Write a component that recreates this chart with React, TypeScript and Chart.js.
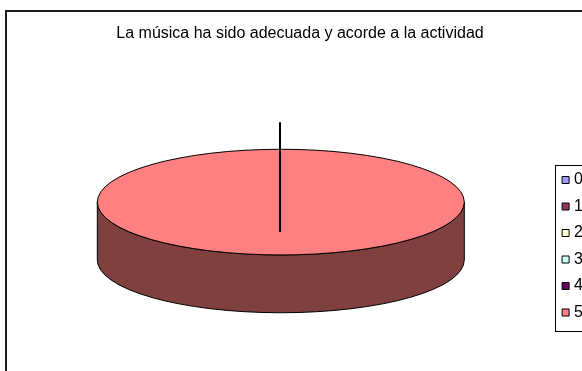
import React, { useEffect, useRef } from 'react';
import { Chart, registerables } from 'chart.js';

Chart.register(...registerables);

const TITLE = 'La música ha sido adecuada y acorde a la actividad';
const CATEGORIES = ['0', '1', '2', '3', '4', '5'];
const VALUES = [0, 0, 0, 0, 0, 100];
const COLORS = ['#9999FF', '#993366', '#FFFFCC', '#CCFFFF', '#660066', '#FF8080'];

const FONT = '"Liberation Sans", Arial, sans-serif';
const TILT = 0.288; // vertical squash of the pie top
const DEPTH = 0.315; // pie thickness relative to radius

function shade(hex: string, f: number): string {
  const n = parseInt(hex.slice(1), 16);
  const r = Math.round(((n >> 16) & 255) * f);
  const g = Math.round(((n >> 8) & 255) * f);
  const b = Math.round((n & 255) * f);
  return `rgb(${r},${g},${b})`;
}

const pie3d = {
  id: 'pie3d',
  beforeDatasetsDraw(chart: any) {
    const ctx: CanvasRenderingContext2D = chart.ctx;
    const meta = chart.getDatasetMeta(0);
    const ds = chart.data.datasets[0];
    const arcs = meta.data;
    if (!arcs.length) return false;
    const R = arcs[0].outerRadius;
    const cx = arcs[0].x;
    const ry = R * TILT;
    const depth = R * DEPTH;
    const cy = arcs[0].y - depth / 2;
    ctx.save();
    ctx.lineWidth = 1;
    ctx.strokeStyle = '#000';
    ctx.lineJoin = 'round';
    // side walls (front half)
    arcs.forEach((arc: any, i: number) => {
      const s = arc.startAngle;
      const e = arc.endAngle;
      if (e - s <= 1e-9) return;
      for (let k = -1; k <= 1; k++) {
        const lo = Math.max(s, 2 * k * Math.PI);
        const hi = Math.min(e, 2 * k * Math.PI + Math.PI);
        if (hi - lo <= 1e-9) continue;
        ctx.beginPath();
        ctx.ellipse(cx, cy, R, ry, 0, lo, hi, false);
        ctx.lineTo(cx + R * Math.cos(hi), cy + depth + ry * Math.sin(hi));
        ctx.ellipse(cx, cy + depth, R, ry, 0, hi, lo, true);
        ctx.closePath();
        ctx.fillStyle = shade(ds.backgroundColor[i], 0.5);
        ctx.fill();
        ctx.stroke();
      }
    });
    // top faces
    arcs.forEach((arc: any, i: number) => {
      const s = arc.startAngle;
      const e = arc.endAngle;
      if (e - s <= 1e-9) return;
      ctx.beginPath();
      const full = e - s >= 2 * Math.PI - 1e-6;
      if (full) {
        ctx.ellipse(cx, cy, R, ry, 0, 0, 2 * Math.PI);
      } else {
        ctx.moveTo(cx, cy);
        ctx.ellipse(cx, cy, R, ry, 0, s, e, false);
        ctx.closePath();
      }
      ctx.fillStyle = ds.backgroundColor[i];
      ctx.fill();
      ctx.stroke();
    });
    // leader line
    ctx.beginPath();
    ctx.lineWidth = 2;
    ctx.strokeStyle = '#000';
    ctx.moveTo(Math.round(cx) - 1, cy + 30);
    ctx.lineTo(Math.round(cx) - 1, cy - ry - 27);
    ctx.stroke();
    ctx.restore();
    return false;
  },
};

const legendFrame = {
  id: 'legendFrame',
  afterDraw(chart: any) {
    const lg = chart.legend;
    if (!lg || !lg.legendHitBoxes || !lg.legendHitBoxes.length) return;
    const hb = lg.legendHitBoxes;
    const first = hb[0];
    const last = hb[hb.length - 1];
    const ctx: CanvasRenderingContext2D = chart.ctx;
    const x = Math.round(lg.left) + 0.5;
    const top = Math.round(first.top + first.height / 2 - 15) + 0.5;
    const bottom = Math.round(last.top + last.height / 2 + 18) + 0.5;
    ctx.save();
    ctx.strokeStyle = '#000';
    ctx.lineWidth = 1;
    ctx.strokeRect(x, top, chart.width + 20 - x, bottom - top);
    ctx.restore();
  },
};

export default function App() {
  const ref = useRef<HTMLCanvasElement>(null);
  useEffect(() => {
    Chart.defaults.font.family = FONT;
    const chart = new Chart(ref.current as HTMLCanvasElement, {
      type: 'pie',
      data: {
        labels: CATEGORIES,
        datasets: [
          {
            data: VALUES,
            backgroundColor: COLORS,
            borderColor: '#000',
            borderWidth: 1,
          },
        ],
      },
      options: {
        responsive: false,
        animation: false,
        devicePixelRatio: 1,
        events: [],
        layout: { padding: 0 },
        plugins: {
          title: {
            display: true,
            text: TITLE,
            color: '#000',
            font: { family: FONT, size: 16, weight: 'normal', lineHeight: 1.2 },
            padding: { top: 12.4, bottom: 3.4 },
          },
          legend: {
            position: 'right',
            align: 'start',
            title: {
              display: true,
              text: ' ',
              font: { size: 10, lineHeight: 1.2 },
              padding: 68.75,
            },
            labels: {
              usePointStyle: true,
              pointStyle: 'rect',
              boxWidth: 1,
              boxHeight: 7,
              padding: 10.5,
              color: '#000',
              font: { family: FONT, size: 16 },
            },
          },
          tooltip: { enabled: false },
        },
      } as any,
      plugins: [pie3d, legendFrame],
    });
    return () => chart.destroy();
  }, []);
  return (
    <div
      style={{
        position: 'fixed',
        left: 0,
        top: 0,
        width: 582,
        height: 371,
        overflow: 'hidden',
        background: '#fff',
      }}
    >
      <div
        style={{
          position: 'absolute',
          left: 5,
          top: 10,
          width: 640,
          height: 440,
          border: '2px solid #1c1c1c',
          background: '#fff',
        }}
      >
        <canvas ref={ref} width={586} height={403} style={{ display: 'block', width: 586, height: 403 }} />
      </div>
    </div>
  );
}
